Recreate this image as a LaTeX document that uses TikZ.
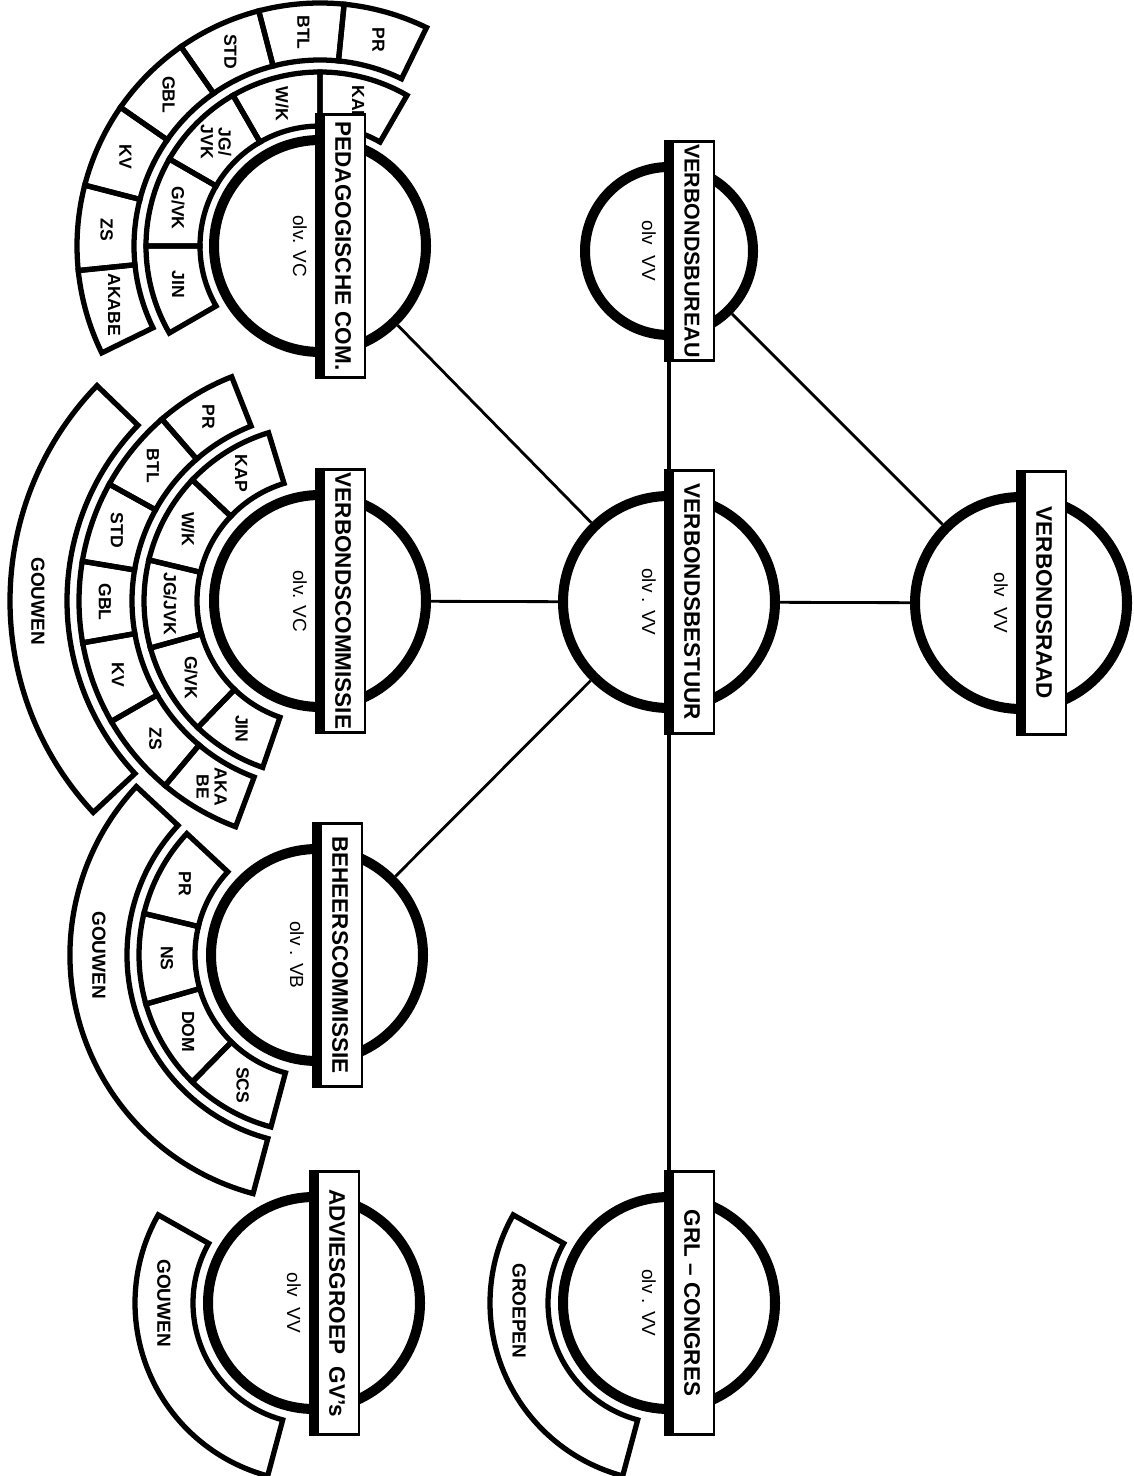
\documentclass[tikz,border=0pt]{standalone}
\usepackage{fontspec}
\setmainfont{Liberation Sans}

\tikzset{
  orgaan/.style={circle, draw, line width=2.85pt, inner sep=0pt, minimum size=2.12cm},
  naambord/.style={draw, fill=white, line width=0.6pt, rotate=-90, anchor=south,
    minimum width=2.63cm, minimum height=0.44cm, inner sep=0.5pt,
    font=\bfseries\fontsize{6.4}{7}\selectfont},
  olv/.style={rotate=-90, inner sep=0pt, font=\fontsize{5.4}{6}\selectfont},
  vak/.style={line width=1.5pt, line join=miter},
  vaktekst/.style={rotate=-90, inner sep=0pt, align=center,
    font=\bfseries\fontsize{5}{5.1}\selectfont},
  gouwtekst/.style={rotate=-90, inner sep=0pt, font=\bfseries\fontsize{5.4}{6}\selectfont},
  middellijn/.style={line width=2.85pt},
  stam/.style={line width=1.4pt},
  verbinding/.style={line width=0.8pt},
}

% ringvak: r binnen, r buiten, hoek van, hoek tot
\newcommand{\ringvak}[4]{%
  \draw[vak] (#3:#1) arc[start angle=#3, end angle=#4, radius=#1]
    -- (#4:#2) arc[start angle=#4, end angle=#3, radius=#2] -- cycle;}

\begin{document}
\begin{tikzpicture}
  \useasboundingbox (0,0) rectangle (11.33,-14.76);

  % Organen
  \node[orgaan] (pedagogisch) at (3.20,-2.46) {};
  \node[orgaan] (commissie) at (3.20,-6.01) {};
  \node[orgaan] (beheer) at (3.17,-9.55) {};
  \node[orgaan] (advies) at (3.14,-13.03) {};
  \node[orgaan, minimum size=1.68cm] (bureau) at (6.69,-2.51) {};
  \node[orgaan] (bestuur) at (6.69,-6.02) {};
  \node[orgaan] (congres) at (6.69,-13.03) {};
  \node[orgaan] (raad) at (10.21,-6.03) {};

  % Pedagogische com.: twee ringen
  \begin{scope}[shift={(pedagogisch.center)}]
    \foreach \a/\b/\tekst [count=\i] in {60/90/KAP, 90/120/{W/K}, 120/150/{JG/\\JVK},
        150/180/{G/VK}, 180/210/JIN} {
      \ringvak{1.20}{1.74}{\a}{\b}
      \node[vaktekst] (pedbinnen\i) at ({(\a+\b)/2}:1.47) {\tekst};
    }
    \foreach \a/\b/\tekst [count=\i] in {64/84.3/PR, 84.3/104.6/BTL, 104.6/124.9/STD,
        124.9/145.2/GBL, 145.2/165.5/KV, 165.5/185.8/ZS, 185.8/206.1/AKABE} {
      \ringvak{1.86}{2.43}{\a}{\b}
      \node[vaktekst] (pedbuiten\i) at ({(\a+\b)/2}:2.14) {\tekst};
    }
  \end{scope}

  % Verbondscommissie: drie ringen
  \begin{scope}[shift={(commissie.center)}]
    \foreach \a/\b/\tekst [count=\i] in {107/136.5/KAP, 136.5/166.5/{W/K}, 166.5/195.5/{JG/JVK},
        195.5/226/{G/VK}, 226/251/JIN} {
      \ringvak{1.23}{1.76}{\a}{\b}
      \node[vaktekst] (combinnen\i) at ({(\a+\b)/2}:1.50) {\tekst};
    }
    \foreach \a/\b/\tekst [count=\i] in {111.5/131/PR, 131/151/BTL, 151/170.5/STD,
        170.5/190/GBL, 190/210/KV, 210/230/ZS, 230/249.5/{AKA\\BE}} {
      \ringvak{1.88}{2.41}{\a}{\b}
      \node[vaktekst] (combuiten\i) at ({(\a+\b)/2}:2.15) {\tekst};
    }
    \ringvak{2.53}{3.10}{136}{223}
    \node[gouwtekst] (comgouwen) at (180:2.82) {GOUWEN};
  \end{scope}

  % Beheerscommissie
  \begin{scope}[shift={(beheer.center)}]
    \foreach \a/\b/\tekst [count=\i] in {137/166.5/PR, 166.5/196/NS, 196/225.5/DOM, 225.5/255/SCS} {
      \ringvak{1.22}{1.78}{\a}{\b}
      \node[vaktekst] (behbinnen\i) at ({(\a+\b)/2}:1.50) {\tekst};
    }
    \ringvak{1.90}{2.47}{137}{255}
    \node[gouwtekst] (behgouwen) at (180:2.18) {GOUWEN};
  \end{scope}

  % Adviesgroep en congres
  \begin{scope}[shift={(advies.center)}]
    \ringvak{1.21}{1.79}{150.5}{255}
    \node[gouwtekst] (advgouwen) at (180:1.50) {GOUWEN};
  \end{scope}
  \begin{scope}[shift={(congres.center)}]
    \ringvak{1.21}{1.79}{150.5}{255}
    \node[gouwtekst] (grlgroepen) at (183:1.50) {GROEPEN};
  \end{scope}

  % Naamborden
  \node[naambord] (pedagogischnaam) at (pedagogisch.center) {PEDAGOGISCHE COM.};
  \node[naambord] (commissienaam) at (commissie.center) {VERBONDSCOMMISSIE};
  \node[naambord] (beheernaam) at (beheer.center) {BEHEERSCOMMISSIE};
  \node[naambord] (adviesnaam) at (advies.center) {ADVIESGROEP\ \ GV's};
  \node[naambord, minimum width=2.19cm, font=\bfseries\fontsize{6.1}{7}\selectfont]
    (bureaunaam) at (bureau.center) {VERBONDSBUREAU};
  \node[naambord] (bestuurnaam) at (bestuur.center) {VERBONDSBESTUUR};
  \node[naambord] (congresnaam) at (congres.center) {GRL -- CONGRES};
  \node[naambord] (raadnaam) at (raad.center) {VERBONDSRAAD};
  \foreach \n in {pedagogisch, commissie, beheer, advies, bureau, bestuur, congres, raad}
    \draw[middellijn] (\n naam.south west) -- (\n naam.south east);

  % olv
  \node[olv] (pedagogischolv) at ([xshift=-2mm]pedagogisch.center) {olv. VC};
  \node[olv] (commissieolv) at ([xshift=-2mm]commissie.center) {olv. VC};
  \node[olv] (beheerolv) at ([xshift=-2mm]beheer.center) {olv . VB};
  \node[olv] (adviesolv) at ([xshift=-2mm]advies.center) {olv\ \ VV};
  \node[olv] (bureauolv) at ([xshift=-2mm]bureau.center) {olv\ \ VV};
  \node[olv] (bestuurolv) at ([xshift=-2mm]bestuur.center) {olv . VV};
  \node[olv] (congresolv) at ([xshift=-2mm]congres.center) {olv . VV};
  \node[olv] (raadolv) at ([xshift=-2mm]raad.center) {olv\ \ VV};

  % Verbindingen
  \draw[stam] (bureaunaam.south east) -- (bestuurnaam.south west);
  \draw[stam] (bestuurnaam.south east) -- (congresnaam.south west);
  \draw[verbinding] (commissie) -- (bestuur);
  \draw[verbinding] (bestuur) -- (raad);
  \draw[verbinding] (pedagogisch) -- (bestuur);
  \draw[verbinding] (beheer) -- (bestuur);
  \draw[verbinding] (bureau) -- (raad);
\end{tikzpicture}
\end{document}
